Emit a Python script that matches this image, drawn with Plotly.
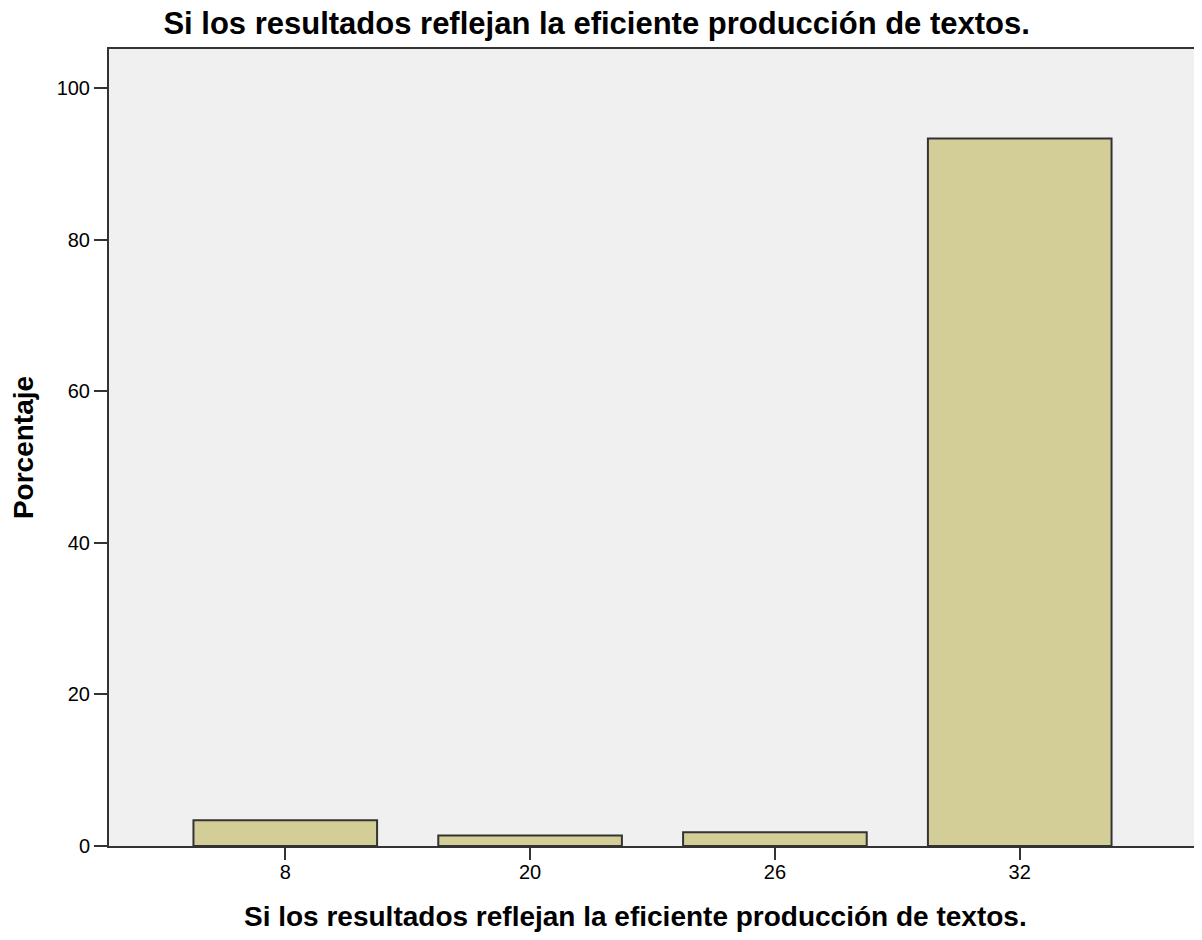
import plotly.graph_objects as go

# category labels and percentages
categories = ["8", "20", "26", "32"]
percentages = [3.4, 1.4, 1.8, 93.4]
y_ticks = [0, 20, 40, 60, 80, 100]

title_text = "Si los resultados reflejan la eficiente producción de textos."

font_family = "Liberation Sans, Arial, sans-serif"

fig = go.Figure()
fig.add_trace(go.Bar(
    x=categories,
    y=percentages,
    width=0.75,
    marker=dict(color="#D3CE98", line=dict(color="#333333", width=2)),
    showlegend=False,
))

fig.update_layout(
    width=1194,
    height=924,
    paper_bgcolor="white",
    plot_bgcolor="#F0F0F0",
    margin=dict(l=101, r=4, t=41, b=86),
    font=dict(family=font_family, color="#000000"),
    title=dict(
        text="<b>" + title_text + "</b>",
        x=0.493, xanchor="center", y=0.984, yanchor="middle",
        font=dict(size=31, family=font_family),
    ),
    # x-axis title placed as an annotation so it can sit slightly left of centre
    annotations=[dict(
        text="<b>" + title_text + "</b>",
        xref="paper", yref="paper", x=0.484, y=-0.089,
        xanchor="center", yanchor="middle", showarrow=False,
        font=dict(size=28, family=font_family),
    )],
)

fig.update_xaxes(
    type="category",
    range=[-0.72, 3.72],
    ticks="outside", ticklen=12, tickwidth=2, tickcolor="#333333",
    tickfont=dict(size=20), ticklabelstandoff=-5,
    showline=True, linecolor="#333333", linewidth=2,
    mirror=True, showgrid=False,
)
fig.update_yaxes(
    range=[0, 105.2],
    tickvals=y_ticks,
    title=dict(text="<b>Porcentaje</b>", font=dict(size=28), standoff=16),
    ticks="outside", ticklen=13, tickwidth=2, tickcolor="#333333",
    tickfont=dict(size=20),
    showline=True, linecolor="#333333", linewidth=2,
    mirror=True, showgrid=False, zeroline=False,
)

fig.write_html("out.html")
